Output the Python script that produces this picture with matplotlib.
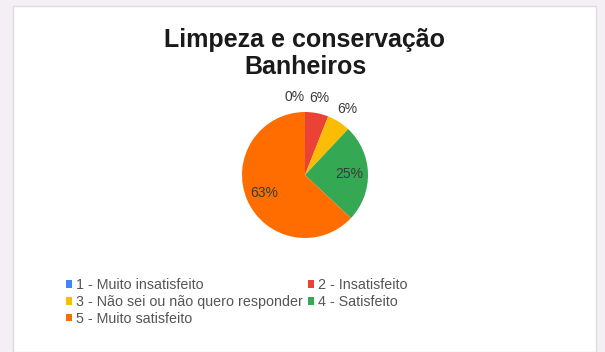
import numpy as np
import matplotlib
matplotlib.use("Agg")
import matplotlib.pyplot as plt
from matplotlib.patches import Rectangle, Patch

plt.rcParams['font.family'] = ['Liberation Sans', 'DejaVu Sans']

# data
categories = ["1 - Muito insatisfeito", "2 - Insatisfeito",
              "3 - Não sei ou não quero responder", "4 - Satisfeito",
              "5 - Muito satisfeito"]
shares = [0, 6, 6, 25, 63]
colors = ["#4285F4", "#EA4335", "#FBBC04", "#34A853", "#FF6D01"]
title = "Limpeza e conservação\nBanheiros"

W, H = 605, 352
fig = plt.figure(figsize=(W / 100, H / 100), dpi=100)
fig.patch.set_facecolor("#F3EFF4")

# white card behind everything
card = Rectangle((13 / W, 0), 583 / W, 1 - 6 / H, transform=fig.transFigure,
                 facecolor="white", edgecolor="#DDDDDD", linewidth=1.0,
                 zorder=-10)
fig.patches.append(card)

fig.text(305 / W, 1 - 74 / H, title, ha="center", va="baseline",
         fontsize=18, fontweight="bold", color="#1A1A1A", linespacing=1.15)

# pie axes: center (305,175), radius 63 px
cx, cy, r = 305, 175, 63
ax = fig.add_axes([(cx - r) / W, 1 - (cy + r) / H, 2 * r / W, 2 * r / H])

wedges, _ = ax.pie(shares, colors=colors, startangle=90, counterclock=False,
                   radius=1, wedgeprops=dict(linewidth=0))
ax.set_xlim(-1, 1)
ax.set_ylim(-1, 1)
ax.axis("off")

for w, v in zip(wedges, shares):
    mid = np.deg2rad((w.theta1 + w.theta2) / 2)
    if v >= 10:
        d = 0.7
        ha = "center"
    else:
        d = 1.24
        ha = "right" if v == 0 else "center"
    ax.text(d * np.cos(mid), d * np.sin(mid), f"{v}%", ha=ha, va="center",
            fontsize=10, color="#3A3A3A")

# legend, row-wise order
handles = [Patch(facecolor=c, edgecolor="none") for c in colors]
order = [0, 2, 4, 1, 3]
fig.legend([handles[i] for i in order], [categories[i] for i in order],
           ncol=2, loc="upper left", bbox_to_anchor=(59 / W, 1 - 271 / H),
           frameon=False, fontsize=10.3, labelcolor="#555555",
           handlelength=0.42, handleheight=0.42, handletextpad=0.3,
           columnspacing=0.3, labelspacing=0.2, borderpad=0)

fig.savefig("out.png", dpi=100, facecolor=fig.get_facecolor())
